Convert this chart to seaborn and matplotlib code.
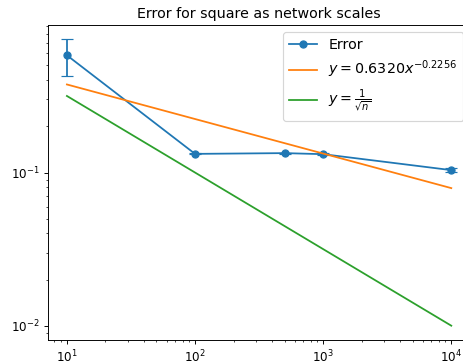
import numpy as np
import pandas as pd
import matplotlib
matplotlib.use("Agg")
import matplotlib.pyplot as plt
import seaborn as sns

# Network sizes and measured error
sizes = [10, 100, 500, 1000, 10000]
errors = [0.583, 0.1324, 0.1339, 0.1318, 0.1037]
error_spread = [0.158, 0.0012, 0.0008, 0.0015, 0.003]

# Fitted power law and reference curve
fit_coef = 0.6320
fit_exp = -0.2256
curve_n = [10, 10000]

DPI = 85.2
fig = plt.figure(figsize=(463 / DPI, 364 / DPI), dpi=DPI)
ax = fig.add_axes([0.1030, 0.0659, 0.9132, 0.8654])

colors = sns.color_palette("tab10")

err_df = pd.DataFrame({"n": sizes, "error": errors})
sns.lineplot(data=err_df, x="n", y="error", ax=ax, color=colors[0],
             marker="o", markersize=6, markeredgecolor=colors[0],
             markeredgewidth=1, label="Error")
ax.errorbar(sizes, errors, yerr=error_spread, fmt="none",
            ecolor=colors[0], capsize=5, elinewidth=1.5)

n_arr = np.array(curve_n, dtype=float)
fit_df = pd.DataFrame({"n": n_arr, "y": fit_coef * n_arr ** fit_exp})
sns.lineplot(data=fit_df, x="n", y="y", ax=ax, color=colors[1],
             label=r"$y = 0.6320x^{-0.2256}$")
sqrt_df = pd.DataFrame({"n": n_arr, "y": 1 / np.sqrt(n_arr)})
sns.lineplot(data=sqrt_df, x="n", y="y", ax=ax, color=colors[2],
             label=r"$y = \frac{1}{\sqrt{n}}$")

ax.set_xscale("log")
ax.set_yscale("log")
ax.set_xlabel("")
ax.set_ylabel("")
ax.set_title("Error for square as network scales", fontsize=12)
ax.legend(loc="upper right", fontsize=12)

fig.savefig("out.png", dpi=DPI)
